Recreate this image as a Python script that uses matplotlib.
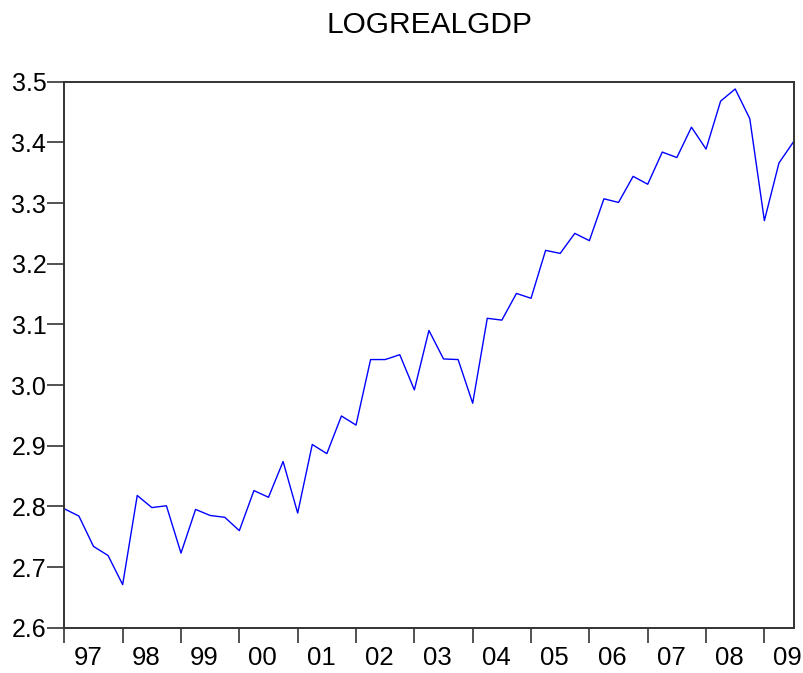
import matplotlib
matplotlib.use("Agg")
import matplotlib.pyplot as plt
import numpy as np

plt.rcParams['font.family'] = ['Liberation Sans', 'DejaVu Sans']

title = "LOGREALGDP"
year_labels = ["97", "98", "99", "00", "01", "02", "03", "04", "05", "06", "07", "08", "09"]
# quarterly values 1997Q1 .. 2009Q3
values = [2.796, 2.784, 2.734, 2.719, 2.671, 2.818, 2.798, 2.801, 2.723, 2.795,
          2.785, 2.782, 2.760, 2.826, 2.815, 2.874, 2.789, 2.902, 2.887, 2.949,
          2.934, 3.042, 3.042, 3.050, 2.992, 3.090, 3.043, 3.042, 2.970, 3.110,
          3.107, 3.151, 3.143, 3.222, 3.217, 3.250, 3.238, 3.307, 3.301, 3.344,
          3.331, 3.384, 3.375, 3.425, 3.389, 3.468, 3.488, 3.439, 3.271, 3.366,
          3.401]
y_ticks = [2.6, 2.7, 2.8, 2.9, 3.0, 3.1, 3.2, 3.3, 3.4, 3.5]

fig = plt.figure(figsize=(8.04, 6.73), dpi=100)
ax = fig.add_axes([0.080, 0.0673, 0.907, 0.8113])

x = np.arange(len(values))
ax.plot(x, values, color=(0, 0, 1), linewidth=1.0)

ax.set_xlim(0, len(values) - 1)
ax.set_ylim(2.6, 3.5)

ax.set_yticks(y_ticks)
ax.set_yticklabels([f"{v:.1f}" for v in y_ticks])

major = np.arange(0, len(values), 4)
ax.set_xticks(major)
ax.set_xticklabels([])

for pos, lab in zip(major, year_labels):
    ax.annotate(lab, xy=(pos, 0), xycoords=('data', 'axes fraction'),
                xytext=(6.5, -26.6), textcoords='offset points',
                ha='left', va='baseline', fontsize=18.5, annotation_clip=False)

ax.tick_params(axis='y', which='major', direction='out', length=12, width=1.2,
               color='#333333', labelsize=18, pad=1)
ax.tick_params(axis='x', which='major', direction='out', length=11, width=1.2,
               color='#333333')

for s in ax.spines.values():
    s.set_color('#333333')
    s.set_linewidth(1.4)

fig.text(0.534, 0.963, title, ha='center', va='center', fontsize=21.5)

fig.savefig("out.png", dpi=100)
